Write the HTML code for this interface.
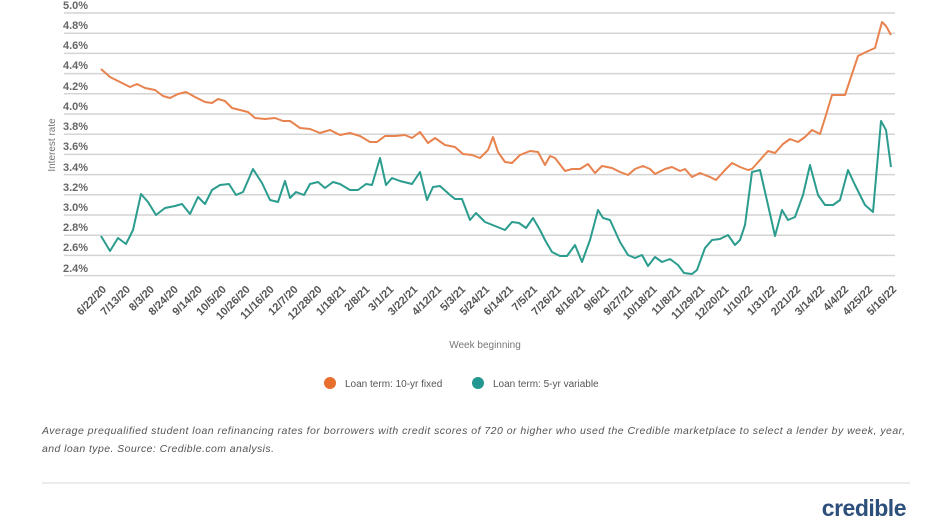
<!DOCTYPE html>
<html><head><meta charset="utf-8"><style>
body{margin:0;background:#fff;width:932px;height:524px;overflow:hidden;font-family:"Liberation Sans",sans-serif}
</style></head><body>
<svg width="932" height="524" xmlns="http://www.w3.org/2000/svg" font-family="Liberation Sans, sans-serif">
<g stroke="#d4d4d4" stroke-width="1.5">
<line x1="64" x2="895" y1="13" y2="13"/><line x1="64" x2="895" y1="33.2" y2="33.2"/><line x1="64" x2="895" y1="53.4" y2="53.4"/><line x1="64" x2="895" y1="73.6" y2="73.6"/><line x1="64" x2="895" y1="93.8" y2="93.8"/><line x1="64" x2="895" y1="114" y2="114"/><line x1="64" x2="895" y1="134.2" y2="134.2"/><line x1="64" x2="895" y1="154.4" y2="154.4"/><line x1="64" x2="895" y1="174.6" y2="174.6"/><line x1="64" x2="895" y1="194.8" y2="194.8"/><line x1="64" x2="895" y1="215" y2="215"/><line x1="64" x2="895" y1="235.2" y2="235.2"/><line x1="64" x2="895" y1="255.4" y2="255.4"/><line x1="64" x2="895" y1="275.6" y2="275.6"/>
</g>
<g font-size="11" fill="#666" font-weight="bold">
<text x="63" y="9">5.0%</text><text x="63" y="29">4.8%</text><text x="63" y="49">4.6%</text><text x="63" y="69">4.4%</text><text x="63" y="90">4.2%</text><text x="63" y="110">4.0%</text><text x="63" y="130">3.8%</text><text x="63" y="150">3.6%</text><text x="63" y="171">3.4%</text><text x="63" y="191">3.2%</text><text x="63" y="211">3.0%</text><text x="63" y="231">2.8%</text><text x="63" y="251">2.6%</text><text x="63" y="272">2.4%</text>
</g>
<text transform="translate(55,145) rotate(-90)" font-size="10" fill="#777" text-anchor="middle">Interest rate</text>
<polyline fill="none" stroke="#e8834f" stroke-width="2" stroke-linejoin="round" points="101,69 110,77 120,82 130,87 137,84 145,88 155,90 163,96 170,98 178,94 186,92 195,97 205,102 212,103 218,99 225,101 232,108 240,110 248,112 255,118 265,119 275,118 283,121 290,121 300,128 310,129 320,133 330,130 340,135 350,133 360,136 370,142 377,142 385,136 395,136 405,135 412,138 420,132 428,143 435,138 445,145 455,147 463,154 472,155 480,158 488,150 493,137 498,152 505,162 512,163 520,155 530,151 538,152 545,165 550,156 555,158 565,171 572,169 580,169 588,164 595,173 602,166 612,168 620,172 628,175 635,169 643,166 650,169 655,174 665,169 672,167 680,171 685,169 692,177 700,173 710,177 716,180 725,170 732,163 740,167 748,170 752,169 760,160 768,151 775,153 783,144 790,139 798,142 805,137 812,130 820,134 826,115 832,95 838,95 845,95 850,80 858,56 866,52 875,48 882,22 886,26 891,35"/>
<polyline fill="none" stroke="#2b9c8e" stroke-width="2" stroke-linejoin="round" points="101,236 110,251 118,238 126,244 133,230 141,194 148,202 156,215 165,208 175,206 182,204 190,214 198,197 205,204 212,190 220,185 229,184 236,195 243,192 253,169 262,183 270,200 278,202 285,181 290,198 296,192 304,195 310,184 318,182 325,188 333,182 340,184 350,190 358,190 366,184 372,185 380,158 386,185 392,178 400,181 412,184 420,172 427,200 433,187 440,186 450,195 455,199 462,199 470,220 476,213 485,222 495,226 505,230 512,222 519,223 526,228 533,218 540,230 545,240 552,252 560,256 567,256 575,245 582,262 590,240 598,210 603,218 610,220 620,242 628,255 635,258 642,255 648,266 655,257 662,262 670,259 678,265 684,273 692,274 697,270 705,248 712,240 720,239 728,235 735,245 740,240 745,225 752,172 760,170 768,205 775,236 782,210 788,220 795,217 803,195 810,165 818,195 825,205 833,205 840,200 848,170 855,185 865,205 873,212 881,121 886,130 891,167"/>
<g font-size="11" fill="#555" font-weight="bold" text-anchor="end" id="xl"></g>
<text x="485" y="348" font-size="10" fill="#777" text-anchor="middle">Week beginning</text>
<circle cx="330" cy="383" r="6" fill="#e8702f"/><text x="345" y="387" font-size="10" fill="#555">Loan term: 10-yr fixed</text>
<circle cx="478" cy="383" r="6" fill="#23968f"/><text x="493" y="387" font-size="10" fill="#555">Loan term: 5-yr variable</text>
<g font-size="10.5" fill="#555" font-style="italic">
<text x="42" y="434" textLength="863" lengthAdjust="spacing">Average prequalified student loan refinancing rates for borrowers with credit scores of 720 or higher who used the Credible marketplace to select a lender by week, year,</text>
<text x="42" y="452" textLength="232" lengthAdjust="spacing">and loan type. Source: Credible.com analysis.</text>
</g>
<line x1="42" x2="910" y1="483" y2="483" stroke="#e6e6e6" stroke-width="1.5"/>
<text x="906" y="516" font-size="23" font-weight="bold" fill="#2d4f7c" text-anchor="end" letter-spacing="-0.5">credible</text>
</svg>
<script>
var labs="6/22/20 7/13/20 8/3/20 8/24/20 9/14/20 10/5/20 10/26/20 11/16/20 12/7/20 12/28/20 1/18/21 2/8/21 3/1/21 3/22/21 4/12/21 5/3/21 5/24/21 6/14/21 7/5/21 7/26/21 8/16/21 9/6/21 9/27/21 10/18/21 11/8/21 11/29/21 12/20/21 1/10/22 1/31/22 2/21/22 3/14/22 4/4/22 4/25/22 5/16/22".split(" ");
var g=document.getElementById("xl"),s="";
labs.forEach(function(l,i){var x=101+i*23.94+6;s+='<text transform="translate('+x+',290) rotate(-45)">'+l+'</text>';});
g.innerHTML=s;
</script>
</body></html>
